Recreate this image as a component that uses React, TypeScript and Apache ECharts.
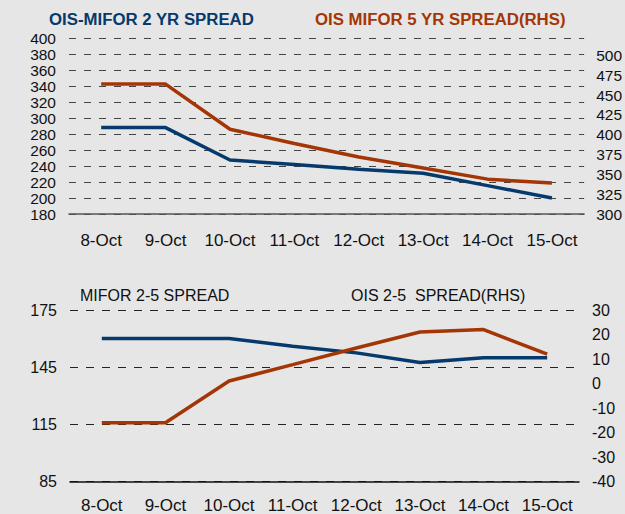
import React, { useEffect, useRef } from "react";
import * as echarts from "echarts";

const categories = ["8-Oct", "9-Oct", "10-Oct", "11-Oct", "12-Oct", "13-Oct", "14-Oct", "15-Oct"];
const ois2yr = [288, 288, 247.5, 242, 236, 231, 215.5, 200];
const ois5yrRhs = [464, 464, 407, 389, 372, 358, 344, 339];
const mifor25 = [160, 160, 160, 156, 152.5, 147.5, 150, 150];
const ois25Rhs = [-16, -16, 1, 7.7, 14.5, 21, 22, 12];

const BLUE = "#063a6c";
const ORANGE = "#a43605";
const FONT = "Liberation Sans, Arial, sans-serif";

export default function App() {
  const ref = useRef<HTMLDivElement>(null);
  useEffect(() => {
    if (!ref.current) return;
    const chart = echarts.init(ref.current, undefined, { renderer: "svg" });
    const xlabel = { color: "#111", fontSize: 17, fontFamily: FONT, interval: 0 };
    const ylabelTop = { color: "#111", fontSize: 15.5, lineHeight: 14, fontFamily: FONT, showMinLabel: true, showMaxLabel: true, hideOverlap: false };
    const label2 = { color: "#111", fontSize: 16, fontFamily: FONT, showMinLabel: true, showMaxLabel: true };
    chart.setOption({
      animation: false,
      backgroundColor: "#e6e6e6",
      textStyle: { fontFamily: FONT },
      graphic: [
        { type: "text", left: 49, top: 11, style: { text: "OIS-MIFOR 2 YR SPREAD", fill: BLUE, font: "bold 16.8px " + FONT } },
        { type: "text", left: 315, top: 11, style: { text: "OIS MIFOR 5 YR SPREAD(RHS)", fill: ORANGE, font: "bold 16.8px " + FONT } },
        { type: "text", left: 80, top: 287, style: { text: "MIFOR 2-5 SPREAD", fill: "#111", font: "16px " + FONT } },
        { type: "text", left: 351, top: 287, style: { text: "OIS 2-5  SPREAD(RHS)", fill: "#111", font: "16px " + FONT } },
      ],
      grid: [
        { left: 69, right: 34.5, top: 38, height: 176 },
        { left: 70, right: 46, top: 310, height: 173 },
      ],
      xAxis: [
        {
          type: "category", gridIndex: 0, data: categories, boundaryGap: true,
          axisLine: { onZero: false, lineStyle: { color: "#555", width: 1.5 } }, axisTick: { show: false },
          axisLabel: { ...xlabel, margin: 17.5 },
        },
        {
          type: "category", gridIndex: 1, data: categories, boundaryGap: true,
          axisLine: { onZero: false, lineStyle: { color: "#111", width: 1.5 } }, axisTick: { show: false },
          axisLabel: { ...xlabel, margin: 15.5 },
        },
      ],
      yAxis: [
        {
          type: "value", gridIndex: 0, min: 180, max: 400, interval: 20, position: "left",
          axisLine: { show: false }, axisTick: { show: false },
          axisLabel: { ...ylabelTop, margin: 13 },
          splitLine: { show: true, lineStyle: { color: "#444", type: [7, 8], width: 1 } },
        },
        {
          type: "value", gridIndex: 0, min: 300, max: 522.2, interval: 25, position: "right",
          axisLine: { show: false }, axisTick: { show: false },
          axisLabel: { ...ylabelTop, margin: 12, showMaxLabel: false },
          splitLine: { show: false },
        },
        {
          type: "value", gridIndex: 1, min: 85, max: 175, interval: 30, position: "left",
          axisLine: { show: false }, axisTick: { show: false },
          axisLabel: { ...label2, margin: 13 },
          splitLine: { show: true, lineStyle: { color: "#222", type: [8, 8], width: 1 } },
        },
        {
          type: "value", gridIndex: 1, min: -40, max: 30, interval: 10, position: "right",
          axisLine: { show: false }, axisTick: { show: false },
          axisLabel: { ...label2, margin: 13 },
          splitLine: { show: false },
        },
      ],
      series: [
        { type: "line", xAxisIndex: 0, yAxisIndex: 0, data: ois2yr, symbol: "none", lineStyle: { color: BLUE, width: 3.5 } },
        { type: "line", xAxisIndex: 0, yAxisIndex: 1, data: ois5yrRhs, symbol: "none", lineStyle: { color: ORANGE, width: 3.5 } },
        { type: "line", xAxisIndex: 1, yAxisIndex: 2, data: mifor25, symbol: "none", lineStyle: { color: BLUE, width: 3.5 } },
        { type: "line", xAxisIndex: 1, yAxisIndex: 3, data: ois25Rhs, symbol: "none", lineStyle: { color: ORANGE, width: 3.5 } },
      ],
    });
    return () => chart.dispose();
  }, []);
  return (
    <div
      ref={ref}
      style={{ position: "fixed", left: 0, top: 0, width: 625, height: 514 }}
    />
  );
}
